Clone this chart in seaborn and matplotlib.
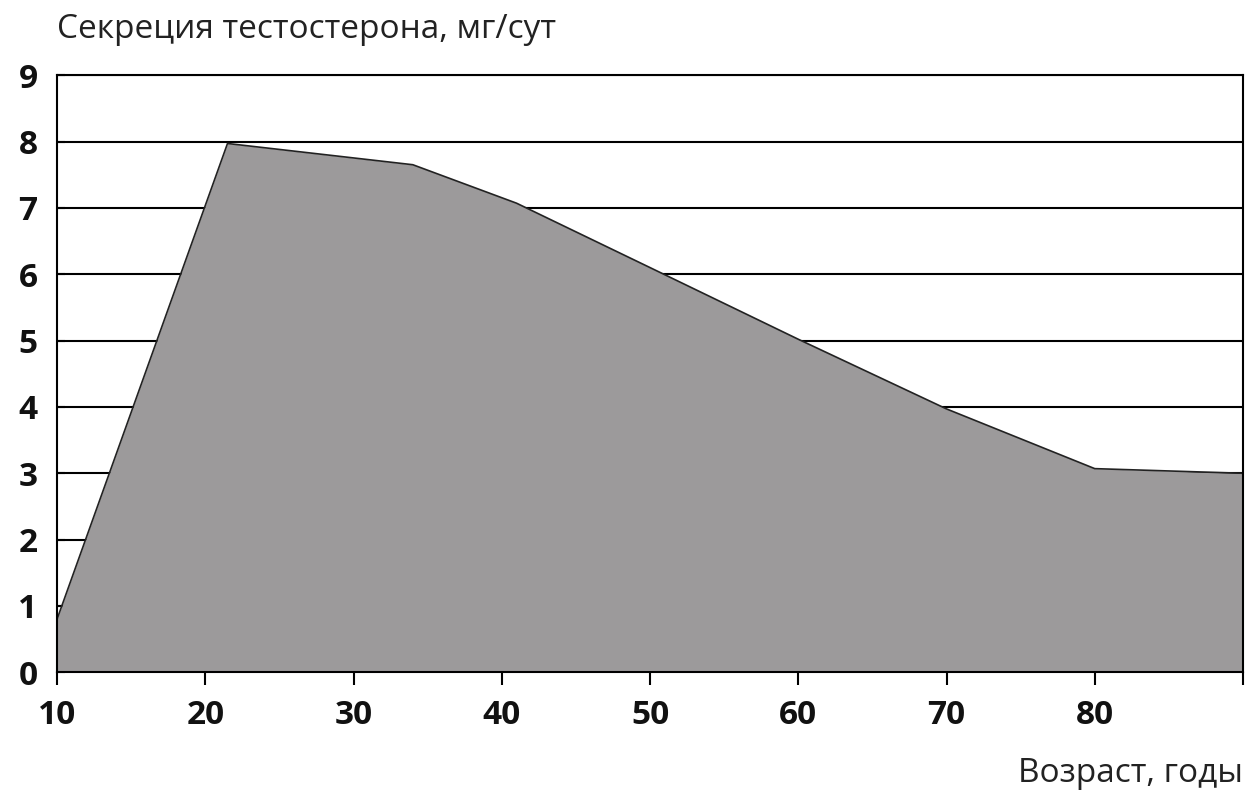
import matplotlib
matplotlib.use("Agg")
import matplotlib.pyplot as plt
import seaborn as sns
import pandas as pd

# возраст (годы) и секреция тестостерона (мг/сут)
age = [10, 21.5, 34, 41, 50, 60, 70, 80, 90]
secretion = [0.8, 7.97, 7.65, 7.07, 6.1, 5.02, 3.97, 3.07, 3.0]
y_ticks = [0, 1, 2, 3, 4, 5, 6, 7, 8, 9]
x_ticks = [10, 20, 30, 40, 50, 60, 70, 80]

df = pd.DataFrame({"age": age, "secretion": secretion})

sns.set_style("white")
plt.rcParams['font.family'] = ['Open Sans', 'DejaVu Sans']
plt.rcParams.update({
    "xtick.bottom": True, "ytick.left": True,
    "xtick.major.size": 9, "ytick.major.size": 6,
    "xtick.major.width": 1.5, "ytick.major.width": 1.5,
    "xtick.direction": "out", "ytick.direction": "in",
    "xtick.color": "black", "ytick.color": "black",
})

fig = plt.figure(figsize=(12.45, 7.91), dpi=100)
ax = fig.add_axes([0.0458, 0.150, 0.9526, 0.755])

ax.fill_between(df["age"], df["secretion"], 0, color="#9c9a9b", lw=0, zorder=2)
sns.lineplot(data=df, x="age", y="secretion", ax=ax, color="#222222", lw=1.2, zorder=3)

for yv in y_ticks[1:]:
    ax.axhline(yv, color="black", lw=1.5, zorder=1)

ax.set_xlim(10, 90)
ax.set_ylim(0, 9)
ax.set_xticks(x_ticks + [90])
ax.set_xticklabels([str(v) for v in x_ticks] + [""])
ax.set_yticks(y_ticks)
ax.set_yticklabels([str(v) for v in y_ticks])
ax.tick_params(axis="x", pad=10, labelsize=24)
ax.tick_params(axis="y", pad=14, labelsize=24)
for lab in ax.get_xticklabels() + ax.get_yticklabels():
    lab.set_fontweight("bold")
    lab.set_color("#111111")

for s in ax.spines.values():
    s.set_color("black")
    s.set_linewidth(1.5)
    s.set_zorder(4)

ax.set_xlabel("")
ax.set_ylabel("")
fig.text(0.0458, 0.963, "Секреция тестостерона, мг/сут", fontsize=24,
         ha="left", va="center", color="#222222")
fig.text(0.998, 0.022, "Возраст, годы", fontsize=24, ha="right",
         va="center", color="#222222")

fig.savefig("out.png", dpi=100)
